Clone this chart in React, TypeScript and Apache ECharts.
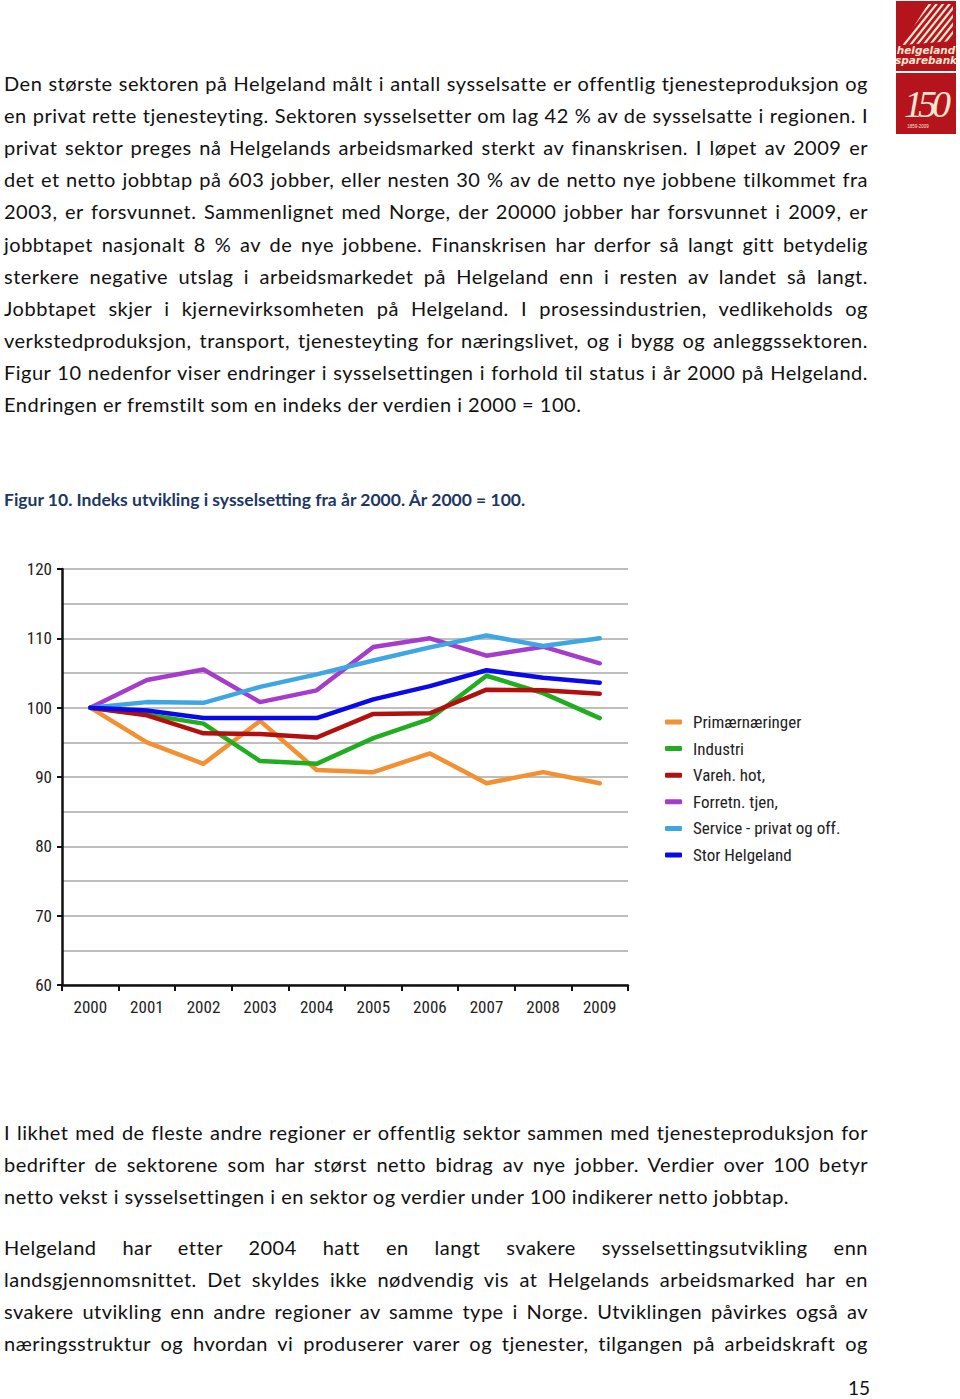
import React, { useEffect, useRef } from "react";
import * as echarts from "echarts";

const years = ["2000", "2001", "2002", "2003", "2004", "2005", "2006", "2007", "2008", "2009"];
const seriesNames = ["Primærnæringer", "Industri", "Vareh. hot,", "Forretn. tjen,", "Service - privat og off.", "Stor Helgeland"];
const primaer = [100, 95.0, 91.9, 98.1, 91.0, 90.7, 93.4, 89.1, 90.7, 89.1];
const industri = [100, 99.0, 97.7, 92.3, 91.9, 95.6, 98.4, 104.6, 102.1, 98.5];
const vareh = [100, 98.9, 96.3, 96.2, 95.7, 99.1, 99.2, 102.6, 102.5, 102.0];
const forretn = [100, 104.0, 105.5, 100.8, 102.5, 108.75, 110.0, 107.5, 108.8, 106.4];
const service = [100, 100.8, 100.7, 103.0, 104.8, 106.8, 108.7, 110.4, 108.9, 110.0];
const storHelgeland = [100, 99.6, 98.5, 98.5, 98.5, 101.2, 103.1, 105.4, 104.3, 103.6];
const seriesColors = ["#f39031", "#20ad20", "#b30f0f", "#a63ccb", "#3ea6e3", "#0a0ae8"];

const para1 = [
  "Den største sektoren på Helgeland målt i antall sysselsatte er offentlig tjenesteproduksjon og",
  "en privat rette tjenesteyting. Sektoren sysselsetter om lag 42 % av de sysselsatte i regionen. I",
  "privat sektor preges nå Helgelands arbeidsmarked sterkt av finanskrisen. I løpet av 2009 er",
  "det et netto jobbtap på 603 jobber, eller nesten 30 % av de netto nye jobbene tilkommet fra",
  "2003, er forsvunnet. Sammenlignet med Norge, der 20000 jobber har forsvunnet i 2009, er",
  "jobbtapet nasjonalt 8 % av de nye jobbene. Finanskrisen har derfor så langt gitt betydelig",
  "sterkere negative utslag i arbeidsmarkedet på Helgeland enn i resten av landet så langt.",
  "Jobbtapet skjer i kjernevirksomheten på Helgeland. I prosessindustrien, vedlikeholds og",
  "verkstedproduksjon, transport, tjenesteyting for næringslivet, og i bygg og anleggssektoren.",
  "Figur 10 nedenfor viser endringer i sysselsettingen i forhold til status i år 2000 på Helgeland.",
  "Endringen er fremstilt som en indeks der verdien i 2000 = 100.",
];
const caption = "Figur 10. Indeks utvikling i sysselsetting fra år 2000. År 2000 = 100.";
const para2 = [
  "I likhet med de fleste andre regioner er offentlig sektor sammen med tjenesteproduksjon for",
  "bedrifter de sektorene som har størst netto bidrag av nye jobber. Verdier over 100 betyr",
  "netto vekst i sysselsettingen i en sektor og verdier under 100 indikerer netto jobbtap.",
];
const para3 = [
  "Helgeland har etter 2004 hatt en langt svakere sysselsettingsutvikling enn",
  "landsgjennomsnittet. Det skyldes ikke nødvendig vis at Helgelands arbeidsmarked har en",
  "svakere utvikling enn andre regioner av samme type i Norge. Utviklingen påvirkes også av",
  "næringsstruktur og hvordan vi produserer varer og tjenester, tilgangen på arbeidskraft og",
];

const BODY_FONT = "Lato, 'Noto Sans', sans-serif";
const NARROW = "'Liberation Sans Narrow', 'Arial Narrow', 'Nimbus Sans Narrow', 'Noto Sans Condensed', 'Roboto Condensed', 'DejaVu Sans Condensed', sans-serif";
const AXIS_FONT_SIZE = 17;
const LEGEND_FONT_SIZE = 17;

function TextLine({ y, text, justify }: { y: number; text: string; justify: boolean }) {
  return (
    <div
      style={{
        position: "absolute",
        left: 4,
        top: y - 17,
        width: 864,
        height: 32,
        lineHeight: "32px",
        fontFamily: BODY_FONT,
        fontSize: 20,
        letterSpacing: "0.5px",
        color: "#111",
        whiteSpace: "nowrap",
        textAlign: justify ? "justify" : "left",
        textAlignLast: justify ? "justify" : "left",
      } as React.CSSProperties}
    >
      {text}
    </div>
  );
}

function Logo() {
  const stripes = [];
  for (let i = 0; i < 9; i++) {
    const o = i * 6.5;
    stripes.push(<line key={i} x1={-10 + o} y1={50} x2={30 + o} y2={0} stroke="#f5e6cf" strokeWidth={2.2} />);
  }
  return (
    <svg width={60} height={134} style={{ position: "absolute", left: 896, top: 1 }}>
      <defs>
        <clipPath id="stripeClip">
          <polygon points="6,44 32,3 57,3 57,40" />
        </clipPath>
      </defs>
      <rect x={0} y={0} width={60} height={70} fill="#b5141d" />
      <g clipPath="url(#stripeClip)">{stripes}</g>
      <text x={30} y={53} textAnchor="middle" fontSize={10.5} fontStyle="italic" fontWeight="bold" fill="#f5e6cf" fontFamily="'DejaVu Sans', sans-serif">helgeland</text>
      <text x={30} y={63} textAnchor="middle" fontSize={10.5} fontStyle="italic" fontWeight="bold" fill="#f5e6cf" fontFamily="'DejaVu Sans', sans-serif">sparebank</text>
      <rect x={0} y={72} width={60} height={61} fill="#b5141d" />
      <text x={29} y={116} textAnchor="middle" fontSize={38} fontStyle="italic" fill="#f5e6cf" fontFamily="'Liberation Serif', 'DejaVu Serif', serif" letterSpacing={-5}>150</text>
      <text x={22} y={127} textAnchor="middle" fontSize={4.5} fill="#f5e6cf" fontFamily="sans-serif">1859-2009</text>
    </svg>
  );
}

function Chart() {
  const ref = useRef<HTMLDivElement>(null);
  useEffect(() => {
    if (!ref.current) return;
    const chart = echarts.init(ref.current, null, { renderer: "svg" });
    const data = [primaer, industri, vareh, forretn, service, storHelgeland];
    const axisColor = "#111";
    chart.setOption({
      animation: false,
      textStyle: { fontFamily: NARROW },
      grid: { left: 62, right: 332, top: 29, bottom: 55 },
      xAxis: {
        type: "category",
        data: years,
        boundaryGap: true,
        axisLine: { lineStyle: { color: axisColor, width: 2.5 } },
        axisTick: { show: true, length: 6, alignWithLabel: false, lineStyle: { color: axisColor, width: 2 } },
        axisLabel: { color: "#222", fontSize: AXIS_FONT_SIZE, margin: 13, fontFamily: NARROW },
        splitLine: { show: false },
      },
      yAxis: {
        type: "value",
        min: 60,
        max: 120,
        interval: 10,
        axisLine: { show: true, lineStyle: { color: axisColor, width: 2.5 } },
        axisTick: { show: true, length: 5, lineStyle: { color: axisColor, width: 2 } },
        axisLabel: { color: "#222", fontSize: AXIS_FONT_SIZE, margin: 10, fontFamily: NARROW },
        splitLine: { show: true, lineStyle: { color: "#a8a8a8", width: 1.5 } },
        minorTick: { show: false, splitNumber: 2 },
        minorSplitLine: { show: true, lineStyle: { color: "#a8a8a8", width: 1.5 } },
      },
      legend: {
        orient: "vertical",
        left: 660,
        top: 167,
        itemWidth: 17,
        itemHeight: 5,
        itemGap: 6.6,
        icon: "roundRect",
        textStyle: { fontSize: LEGEND_FONT_SIZE, color: "#222", lineHeight: 20, fontFamily: NARROW, padding: [0, 0, 0, 6] },
        data: seriesNames,
      },
      series: seriesNames.map((name, i) => ({
        name,
        type: "line",
        data: data[i],
        showSymbol: false,
        symbol: "none",
        color: seriesColors[i],
        lineStyle: { width: 4.5, color: seriesColors[i], cap: "round", join: "round" },
      })),
    });
    return () => chart.dispose();
  }, []);
  return <div ref={ref} style={{ position: "absolute", left: 0, top: 540, width: 960, height: 500 }} />;
}

export default function App() {
  return (
    <div style={{ position: "absolute", left: 0, top: 0, width: 960, height: 1399, background: "#fff", overflow: "hidden" }}>
      <Logo />
      {para1.map((t, i) => (
        <TextLine key={"p1" + i} y={84 + i * 32.1} text={t} justify={i < para1.length - 1} />
      ))}
      <div
        style={{
          position: "absolute",
          left: 4,
          top: 488,
          fontFamily: BODY_FONT,
          fontWeight: "bold",
          fontSize: 17.5,
          color: "#1c3764",
          whiteSpace: "nowrap",
          lineHeight: "24px",
        }}
      >
        {caption}
      </div>
      <Chart />
      {para2.map((t, i) => (
        <TextLine key={"p2" + i} y={1133 + i * 32.1} text={t} justify={i < para2.length - 1} />
      ))}
      {para3.map((t, i) => (
        <TextLine key={"p3" + i} y={1248 + i * 32.1} text={t} justify={true} />
      ))}
      <div style={{ position: "absolute", left: 848, top: 1376, fontFamily: BODY_FONT, fontSize: 19, color: "#111", lineHeight: "24px" }}>15</div>
    </div>
  );
}
